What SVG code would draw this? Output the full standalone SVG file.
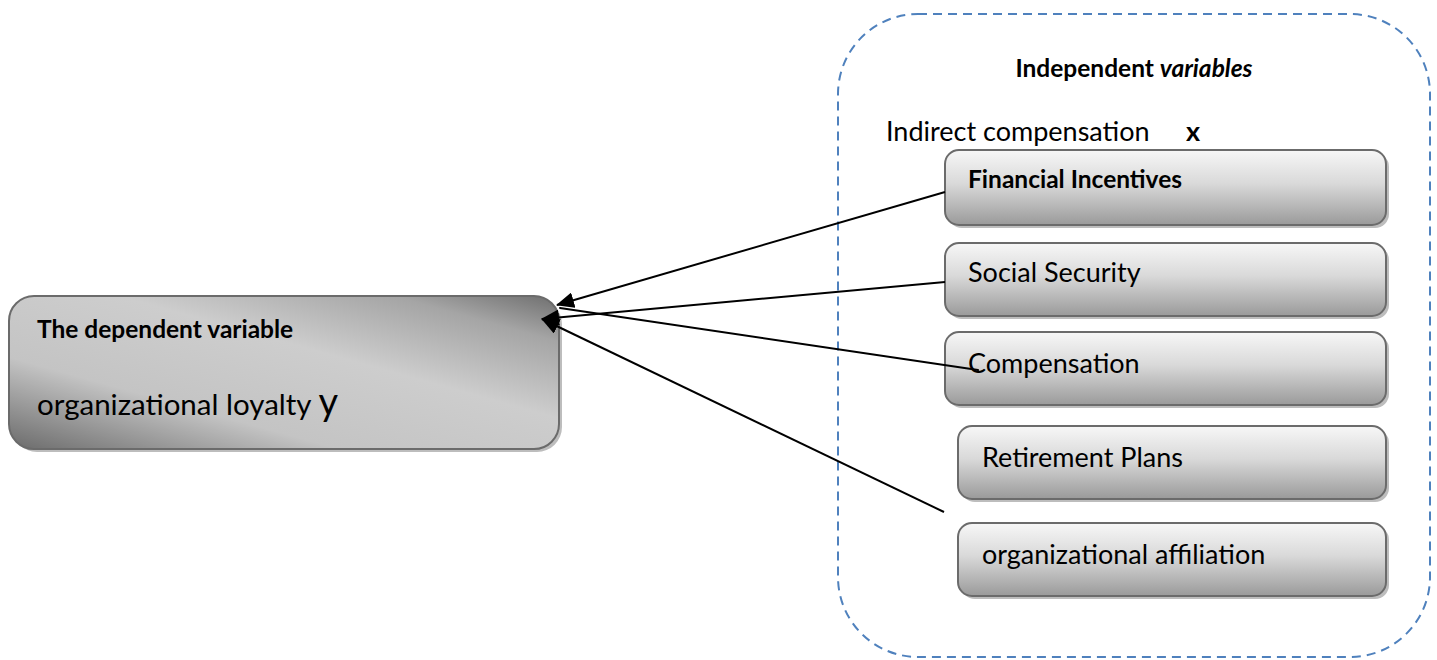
<svg xmlns="http://www.w3.org/2000/svg" width="1437" height="660" viewBox="0 0 1437 660">
  <defs>
    <linearGradient id="gItem" x1="0" y1="0" x2="0" y2="1">
      <stop offset="0" stop-color="#f7f7f7"/>
      <stop offset="0.45" stop-color="#d9d9d9"/>
      <stop offset="1" stop-color="#9a9a9a"/>
    </linearGradient>
    <linearGradient id="gMain" x1="0" y1="1" x2="1" y2="0">
      <stop offset="0" stop-color="#6b6b6b"/>
      <stop offset="0.3" stop-color="#c4c4c4"/>
      <stop offset="0.6" stop-color="#cdcdcd"/>
      <stop offset="0.85" stop-color="#a5a5a5"/>
      <stop offset="1" stop-color="#6e6e6e"/>
    </linearGradient>
    <marker id="arrow" markerWidth="18" markerHeight="16" refX="17" refY="8" orient="auto" markerUnits="userSpaceOnUse">
      <path d="M0,0 L18,8 L0,16 Z" fill="#000"/>
    </marker>
  </defs>
  <style>
    .shadow { fill: #bdbdbd; }
    .item { fill: url(#gItem); stroke: #6b6b6b; stroke-width: 2; }
    .main { fill: url(#gMain); stroke: #6b6b6b; stroke-width: 2; }
    .t { font-family: Lato, "Open Sans", "Liberation Sans", sans-serif; fill: #000; }
    .label { font-size: 27px; }
    .head { font-size: 24.5px; font-weight: bold; }
    .edge { stroke: #000; stroke-width: 2; fill: none; }
  </style>

  <rect width="1437" height="660" fill="#fff"/>

  <!-- group frame -->
  <g id="independent-group">
    <rect x="838" y="14" width="592" height="643" rx="80" ry="80" fill="none" stroke="#4f81bd" stroke-width="2" stroke-dasharray="9,6"/>
    <text class="t head" x="1134" y="77" text-anchor="middle">Independent <tspan font-style="italic">variables</tspan></text>
    <text class="t label" x="886" y="141">Indirect compensation</text>
    <text class="t label" x="1186" y="141" font-weight="bold">x</text>
  </g>

  <!-- dependent variable -->
  <g id="dependent">
    <rect class="shadow" x="12" y="299" width="550" height="153" rx="25"/>
    <rect class="main" x="9" y="296" width="550" height="153" rx="25"/>
    <text class="t head" x="37" y="338">The dependent variable</text>
    <text class="t" x="37" y="415" font-size="29.5">organizational loyalty <tspan font-size="38">y</tspan></text>
  </g>

  <g id="financial-incentives">
    <rect class="shadow" x="948" y="153" width="441" height="75" rx="14"/>
    <rect class="item" x="945" y="150" width="441" height="75" rx="14"/>
    <text class="t head" x="968" y="188">Financial Incentives</text>
  </g>

  <g id="social-security">
    <rect class="shadow" x="948" y="246" width="441" height="73" rx="14"/>
    <rect class="item" x="945" y="243" width="441" height="73" rx="14"/>
    <text class="t label" x="968" y="282">Social Security</text>
  </g>

  <g id="compensation">
    <rect class="shadow" x="948" y="335" width="441" height="73" rx="14"/>
    <rect class="item" x="945" y="332" width="441" height="73" rx="14"/>
    <text class="t label" x="968" y="373">Compensation</text>
  </g>

  <g id="retirement-plans">
    <rect class="shadow" x="961" y="429" width="428" height="73" rx="14"/>
    <rect class="item" x="958" y="426" width="428" height="73" rx="14"/>
    <text class="t label" x="982" y="467">Retirement Plans</text>
  </g>

  <g id="organizational-affiliation">
    <rect class="shadow" x="961" y="526" width="428" height="73" rx="14"/>
    <rect class="item" x="958" y="523" width="428" height="73" rx="14"/>
    <text class="t label" x="982" y="564">organizational affiliation</text>
  </g>

  <!-- connectors -->
  <g id="connectors">
    <line class="edge" x1="945" y1="192" x2="557" y2="305" marker-end="url(#arrow)"/>
    <line class="edge" x1="945" y1="282" x2="542" y2="319" marker-end="url(#arrow)"/>
    <line class="edge" x1="978" y1="370" x2="560" y2="308" stroke-linecap="round"/>
    <line class="edge" x1="944" y1="512" x2="542" y2="319" marker-end="url(#arrow)"/>
  </g>
</svg>
